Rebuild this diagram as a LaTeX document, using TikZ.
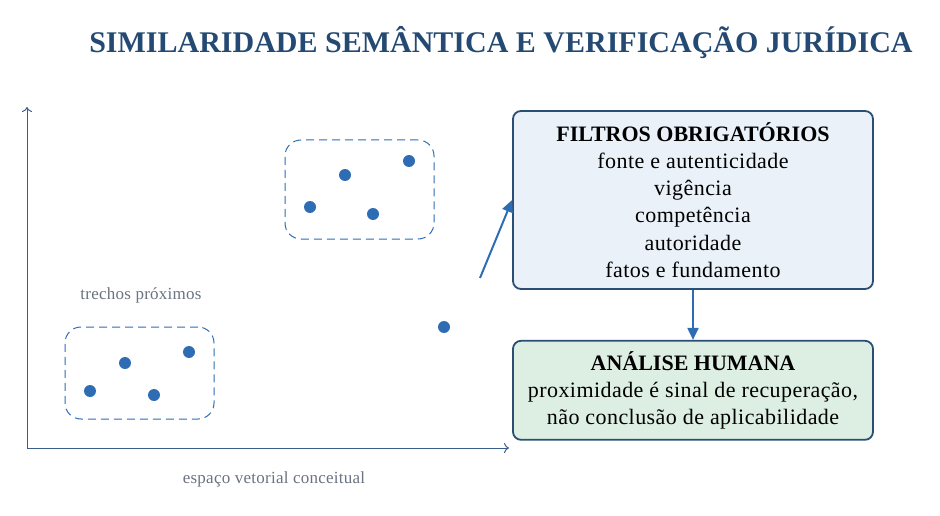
\documentclass[tikz,border=0pt]{standalone}
\usepackage{fontspec}
\setmainfont{Liberation Serif}
\usetikzlibrary{arrows.meta, positioning}

\definecolor{titleblue}{HTML}{244A73}
\definecolor{axisblue}{HTML}{3A5F8A}
\definecolor{dotblue}{HTML}{2E6DB4}
\definecolor{edgeblue}{HTML}{2B4F74}
\definecolor{filterfill}{HTML}{EAF1F8}
\definecolor{humanfill}{HTML}{DDEEE3}
\definecolor{notegray}{HTML}{6B7280}

\begin{document}
\begin{tikzpicture}[
		x=1pt, y=-1pt,
		dot/.style={circle, fill=dotblue, inner sep=0pt, minimum size=12pt},
		group/.style={draw=dotblue, dashed, dash pattern=on 8pt off 5pt, line width=1pt, rounded corners=16pt, minimum width=149pt, minimum height=99pt},
		axis/.style={draw=axisblue, line width=1pt, -{To[length=5pt, width=10pt]}},
		panel/.style={draw=edgeblue, line width=1.8pt, rounded corners=8pt, align=center, minimum width=360pt, font=\fontsize{22}{27.3}\selectfont\addfontfeature{LetterSpace=2}},
		arrow/.style={draw=dotblue, line width=2pt, -{Triangle[length=12pt, width=11pt]}},
		note/.style={text=notegray, font=\fontsize{17}{19}\selectfont\addfontfeature{LetterSpace=1.5}}
		]
		\useasboundingbox (0,0) rectangle (940,516);
		
		% Title
		\node (title) [text=titleblue, font=\fontsize{30}{34}\selectfont\bfseries] at (501,43) {SIMILARIDADE SEMÂNTICA E VERIFICAÇÃO JURÍDICA};
		
		% Axes
		\coordinate (origin) at (27,448);
		\coordinate (ytop) at (27,107);
		\coordinate (xend) at (509,448);
		\draw[axis] (origin) -- (ytop);
		\draw[axis] (origin) -- (xend);
		\node (xlabel) [note] at (274,479) {espaço vetorial conceitual};
		
		% Groups
		\node (upper) [group] at (359.5,189.5) {};
		\node (lower) [group, minimum height=92pt] at (139.5,373) {};
		\node (near) [note] at (141,295) {trechos próximos};
		
		% Points
		\foreach \p [count=\i] in {(310,207), (345,175), (409,161), (373,214)}
			\node (u\i) [dot] at \p {};
		\foreach \p [count=\i] in {(90,391), (125,363), (189,352), (154,395)}
			\node (l\i) [dot] at \p {};
		\node (lone) [dot] at (444,327) {};
		
		% Filters
		\node (filters) [panel, fill=filterfill, minimum height=178pt] at (693,200)
		{{\addfontfeature{LetterSpace=0}\textbf{FILTROS OBRIGATÓRIOS}}\\
			fonte e autenticidade\\
			vigência\\
			competência\\
			autoridade\\
			fatos e fundamento};
		
		% Human analysis
		\node (human) [panel, fill=humanfill, minimum height=99pt, below=50pt of filters] 
		{{\addfontfeature{LetterSpace=0}\textbf{ANÁLISE HUMANA}}\\
			proximidade é sinal de recuperação,\\
			não conclusão de aplicabilidade};
		
		% Arrows
		\coordinate (start) at (480,278);
		\draw[arrow] (start) -- (filters.west);
		\draw[arrow] (filters) -- (human);
		
	\end{tikzpicture}
\end{document}
